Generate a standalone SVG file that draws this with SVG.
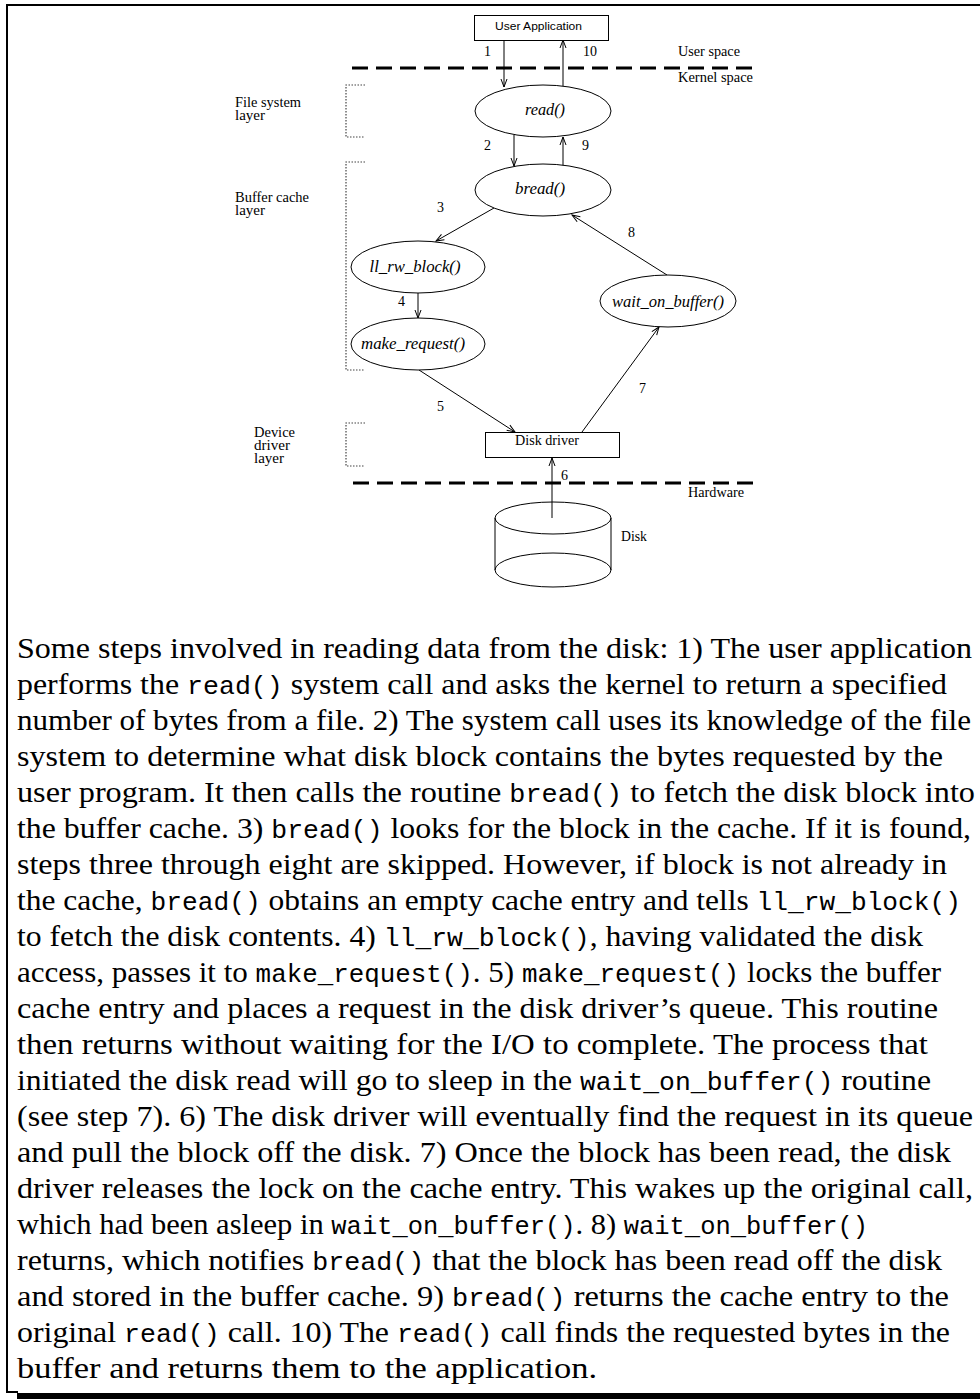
<svg xmlns="http://www.w3.org/2000/svg" width="980" height="1399" viewBox="0 0 980 1399">
<style>
.ln{stroke:#000;stroke-width:1;fill:none}
.sep{stroke:#000;stroke-width:3;stroke-dasharray:16 8;fill:none}
.dot{stroke:#444;stroke-width:1.2;stroke-dasharray:1.5 1.5;fill:none}
.nd{stroke:#000;stroke-width:1;fill:#fff}
.lab{font-family:"Liberation Serif",serif;font-size:14px;fill:#000}
.fn{font-family:"Liberation Serif",serif;font-style:italic;font-size:16px;fill:#000}
.cap{font-family:"Liberation Serif",serif;font-size:30px;fill:#000}
.m{font-family:"Liberation Mono",monospace;font-size:25px}
</style>
<defs>
<marker id="ah" markerUnits="userSpaceOnUse" markerWidth="12" markerHeight="10" viewBox="-10 -5 12 10" refX="0" refY="0" orient="auto">
<path d="M-8,-3 L0,0 L-8,3" stroke="#000" stroke-width="1" fill="none"/>
</marker>
</defs>
<rect width="980" height="1399" fill="#fff"/>
<g id="frame">
<path d="M7,1393 V5 H980" stroke="#000" stroke-width="2" fill="none"/>
<line x1="7" y1="1392" x2="18" y2="1392" stroke="#000" stroke-width="2"/>
<rect x="17" y="1393" width="963" height="6" fill="#000"/>
</g>
<g id="separators">
<line class="sep" x1="352" y1="68" x2="755" y2="68"/>
<line class="sep" x1="353" y1="483" x2="755" y2="483"/>
<text class="lab" x="678" y="56" textLength="62" lengthAdjust="spacingAndGlyphs">User space</text>
<text class="lab" x="678" y="82" textLength="75" lengthAdjust="spacingAndGlyphs">Kernel space</text>
<text class="lab" x="688" y="497" textLength="56" lengthAdjust="spacingAndGlyphs">Hardware</text>
</g>
<g id="layers">
<path class="dot" d="M365,85 H346 V137 H365"/>
<path class="dot" d="M365,162 H346 V370 H365"/>
<path class="dot" d="M365,423 H346 V466 H365"/>
<text class="lab" x="235" y="107" textLength="66" lengthAdjust="spacingAndGlyphs">File system</text>
<text class="lab" x="235" y="120" textLength="30" lengthAdjust="spacingAndGlyphs">layer</text>
<text class="lab" x="235" y="202" textLength="74" lengthAdjust="spacingAndGlyphs">Buffer cache</text>
<text class="lab" x="235" y="215" textLength="30" lengthAdjust="spacingAndGlyphs">layer</text>
<text class="lab" x="254" y="437" textLength="41" lengthAdjust="spacingAndGlyphs">Device</text>
<text class="lab" x="254" y="450" textLength="36" lengthAdjust="spacingAndGlyphs">driver</text>
<text class="lab" x="254" y="463" textLength="30" lengthAdjust="spacingAndGlyphs">layer</text>
</g>
<g id="connectors">
<line class="ln" x1="504" y1="40" x2="504" y2="87" marker-end="url(#ah)"/>
<line class="ln" x1="563" y1="86" x2="563" y2="40" marker-end="url(#ah)"/>
<line class="ln" x1="514" y1="135" x2="514" y2="166" marker-end="url(#ah)"/>
<line class="ln" x1="563" y1="166" x2="563" y2="137" marker-end="url(#ah)"/>
<line class="ln" x1="494" y1="208" x2="436" y2="241" marker-end="url(#ah)"/>
<line class="ln" x1="418" y1="293" x2="418" y2="318" marker-end="url(#ah)"/>
<line class="ln" x1="419" y1="370" x2="515" y2="432" marker-end="url(#ah)"/>
<line class="ln" x1="582" y1="432" x2="659" y2="327" marker-end="url(#ah)"/>
<line class="ln" x1="667" y1="275" x2="572" y2="215" marker-end="url(#ah)"/>
<text class="lab" x="484" y="56">1</text>
<text class="lab" x="583" y="56">10</text>
<text class="lab" x="484" y="150">2</text>
<text class="lab" x="582" y="150">9</text>
<text class="lab" x="437" y="212">3</text>
<text class="lab" x="628" y="237">8</text>
<text class="lab" x="398" y="306">4</text>
<text class="lab" x="437" y="411">5</text>
<text class="lab" x="639" y="393">7</text>
<text class="lab" x="561" y="480">6</text>
</g>
<g id="user-application">
<rect class="nd" x="474.5" y="15.5" width="134" height="25"/>
<text x="495" y="30" font-family="Liberation Sans, sans-serif" font-size="11.5" textLength="87" lengthAdjust="spacingAndGlyphs">User Application</text>
</g>
<g id="read">
<ellipse class="nd" cx="543" cy="111" rx="68" ry="26"/>
<text class="fn" x="545" y="115" text-anchor="middle" textLength="40" lengthAdjust="spacingAndGlyphs">read()</text>
</g>
<g id="bread">
<ellipse class="nd" cx="543" cy="190" rx="68" ry="26"/>
<text class="fn" x="540" y="194" text-anchor="middle" textLength="50" lengthAdjust="spacingAndGlyphs">bread()</text>
</g>
<g id="ll_rw_block">
<ellipse class="nd" cx="418" cy="267" rx="67" ry="26"/>
<text class="fn" x="415" y="272" text-anchor="middle" textLength="91" lengthAdjust="spacingAndGlyphs">ll_rw_block()</text>
</g>
<g id="make_request">
<ellipse class="nd" cx="418" cy="344" rx="67" ry="26"/>
<text class="fn" x="413" y="349" text-anchor="middle" textLength="104" lengthAdjust="spacingAndGlyphs">make_request()</text>
</g>
<g id="wait_on_buffer">
<ellipse class="nd" cx="668" cy="301" rx="68" ry="26"/>
<text class="fn" x="668" y="307" text-anchor="middle" textLength="112" lengthAdjust="spacingAndGlyphs">wait_on_buffer()</text>
</g>
<g id="disk-driver">
<rect class="nd" x="485.5" y="432.5" width="134" height="25"/>
<text class="lab" x="515" y="445" textLength="64" lengthAdjust="spacingAndGlyphs">Disk driver</text>
</g>
<g id="disk">
<path class="ln" d="M495,518 V570 M611,518 V570"/>
<ellipse class="ln" cx="553" cy="518" rx="58" ry="16"/>
<ellipse class="ln" cx="553" cy="570" rx="58" ry="17"/>
<text class="lab" x="621" y="541" textLength="26" lengthAdjust="spacingAndGlyphs">Disk</text>
</g>
<g id="disk-arrow">
<line class="ln" x1="552" y1="518" x2="552" y2="458" marker-end="url(#ah)"/>
</g>
<g id="caption" class="cap">
<text x="17" y="658" textLength="955" lengthAdjust="spacingAndGlyphs">Some steps involved in reading data from the disk: 1) The user application</text>
<text x="17" y="694" textLength="930" lengthAdjust="spacingAndGlyphs">performs the <tspan class="m">read()</tspan> system call and asks the kernel to return a specified</text>
<text x="17" y="730" textLength="954" lengthAdjust="spacingAndGlyphs">number of bytes from a file. 2) The system call uses its knowledge of the file</text>
<text x="17" y="766" textLength="926" lengthAdjust="spacingAndGlyphs">system to determine what disk block contains the bytes requested by the</text>
<text x="17" y="802" textLength="958" lengthAdjust="spacingAndGlyphs">user program. It then calls the routine <tspan class="m">bread()</tspan> to fetch the disk block into</text>
<text x="17" y="838" textLength="954" lengthAdjust="spacingAndGlyphs">the buffer cache. 3) <tspan class="m">bread()</tspan> looks for the block in the cache. If it is found,</text>
<text x="17" y="874" textLength="930" lengthAdjust="spacingAndGlyphs">steps three through eight are skipped. However, if block is not already in</text>
<text x="17" y="910" textLength="944" lengthAdjust="spacingAndGlyphs">the cache, <tspan class="m">bread()</tspan> obtains an empty cache entry and tells <tspan class="m">ll_rw_block()</tspan></text>
<text x="17" y="946" textLength="906" lengthAdjust="spacingAndGlyphs">to fetch the disk contents. 4) <tspan class="m">ll_rw_block()</tspan>, having validated the disk</text>
<text x="17" y="982" textLength="924" lengthAdjust="spacingAndGlyphs">access, passes it to <tspan class="m">make_request()</tspan>. 5) <tspan class="m">make_request()</tspan> locks the buffer</text>
<text x="17" y="1018" textLength="921" lengthAdjust="spacingAndGlyphs">cache entry and places a request in the disk driver’s queue. This routine</text>
<text x="17" y="1054" textLength="911" lengthAdjust="spacingAndGlyphs">then returns without waiting for the I/O to complete. The process that</text>
<text x="17" y="1090" textLength="914" lengthAdjust="spacingAndGlyphs">initiated the disk read will go to sleep in the <tspan class="m">wait_on_buffer()</tspan> routine</text>
<text x="17" y="1126" textLength="956" lengthAdjust="spacingAndGlyphs">(see step 7). 6) The disk driver will eventually find the request in its queue</text>
<text x="17" y="1162" textLength="934" lengthAdjust="spacingAndGlyphs">and pull the block off the disk. 7) Once the block has been read, the disk</text>
<text x="17" y="1198" textLength="956" lengthAdjust="spacingAndGlyphs">driver releases the lock on the cache entry. This wakes up the original call,</text>
<text x="17" y="1234" textLength="851" lengthAdjust="spacingAndGlyphs">which had been asleep in <tspan class="m">wait_on_buffer()</tspan>. 8) <tspan class="m">wait_on_buffer()</tspan></text>
<text x="17" y="1270" textLength="925" lengthAdjust="spacingAndGlyphs">returns, which notifies <tspan class="m">bread()</tspan> that the block has been read off the disk</text>
<text x="17" y="1306" textLength="932" lengthAdjust="spacingAndGlyphs">and stored in the buffer cache. 9) <tspan class="m">bread()</tspan> returns the cache entry to the</text>
<text x="17" y="1342" textLength="933" lengthAdjust="spacingAndGlyphs">original <tspan class="m">read()</tspan> call. 10) The <tspan class="m">read()</tspan> call finds the requested bytes in the</text>
<text x="17" y="1378" textLength="580" lengthAdjust="spacingAndGlyphs">buffer and returns them to the application.</text>
</g>
</svg>
